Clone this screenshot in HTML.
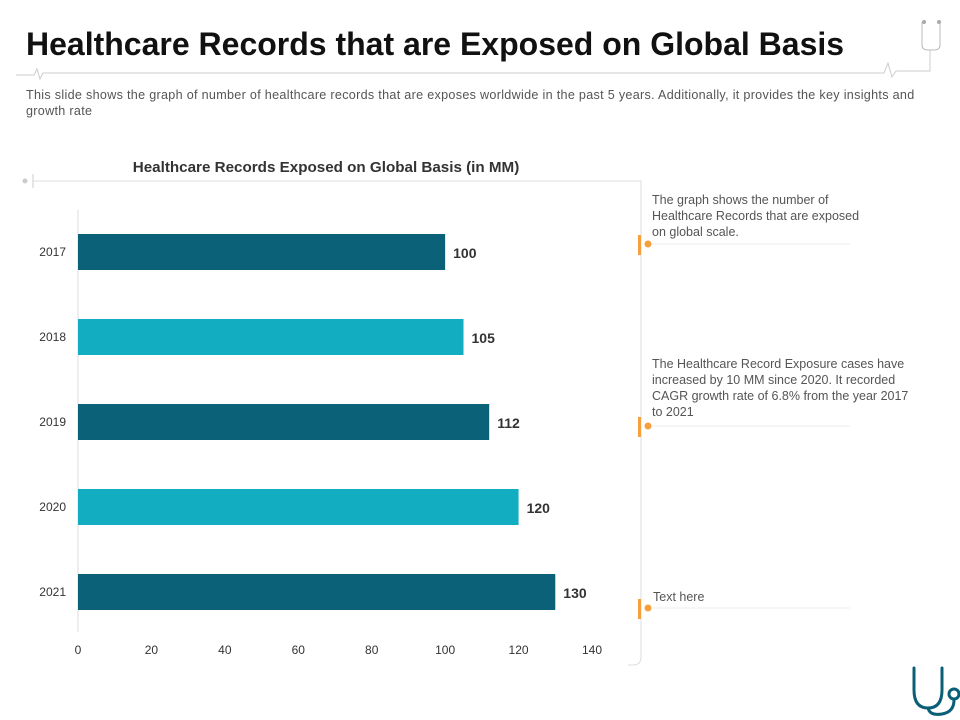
<!DOCTYPE html>
<html><head><meta charset="utf-8"><style>
body{margin:0;width:960px;height:720px;background:#fff;font-family:"Liberation Sans",sans-serif;overflow:hidden;position:relative}
.abs{position:absolute}
</style></head><body>
<div class="abs" style="left:26px;top:26px;font-size:32px;font-weight:bold;color:#111">Healthcare Records that are Exposed on Global Basis</div>
<div class="abs" style="left:26px;top:87px;width:900px;font-size:12.6px;letter-spacing:0.3px;line-height:16px;color:#555">This slide shows the graph of number of healthcare records that are exposes worldwide in the past 5 years. Additionally, it provides the key insights and growth rate</div>
<svg class="abs" style="left:0;top:0" width="960" height="720">
<g fill="none" stroke="#ccc" stroke-width="1">
<path d="M16 75 H34 l3 -6 l3 10 l3 -6 H884 l4 -10 l4 14 l4 -6 H930 V50"/>
<path d="M922 22 V45 Q922 50 928 50 H934 Q940 50 940 45 V22" stroke="#bbb"/>
<circle cx="924" cy="22" r="2" fill="#aaa" stroke="none"/><circle cx="939" cy="22" r="2" fill="#aaa" stroke="none"/>
</g>
<g fill="none" stroke="#ddd">
<circle cx="25" cy="181" r="2.5" fill="#ccc" stroke="none"/>
<line x1="33" y1="174" x2="33" y2="188" stroke="#ccc"/>
<path d="M33 181 H641 V657 Q641 665 633 665 H628"/>
</g>
<text x="326" y="172" text-anchor="middle" font-size="15.2" font-weight="bold" fill="#333">Healthcare Records Exposed on Global Basis (in MM)</text>
<g id="plot"></g>
<g>
<rect x="638" y="235" width="3" height="20" fill="#f5a03c"/><circle cx="648" cy="244" r="3.5" fill="#f5a03c"/><line x1="652" y1="244" x2="850" y2="244" stroke="#eee"/>
<text font-size="12.5" fill="#555"><tspan x="652" y="204">The graph shows the number of</tspan><tspan x="652" y="220">Healthcare Records that are exposed</tspan><tspan x="652" y="236">on global scale.</tspan></text>
<rect x="638" y="417" width="3" height="20" fill="#f5a03c"/><circle cx="648" cy="426" r="3.5" fill="#f5a03c"/><line x1="652" y1="426" x2="850" y2="426" stroke="#eee"/>
<text font-size="12.5" fill="#555"><tspan x="652" y="368">The Healthcare Record Exposure cases have</tspan><tspan x="652" y="384">increased by 10 MM since 2020. It recorded</tspan><tspan x="652" y="400">CAGR growth rate of 6.8% from the year 2017</tspan><tspan x="652" y="416">to 2021</tspan></text>
<rect x="638" y="599" width="3" height="20" fill="#f5a03c"/><circle cx="648" cy="608" r="3.5" fill="#f5a03c"/><line x1="652" y1="608" x2="850" y2="608" stroke="#eee"/>
<text x="653" y="601" font-size="12.5" fill="#555">Text here</text>
</g>
<g fill="none" stroke="#0a5f77" stroke-width="3" stroke-linecap="round">
<path d="M914 668 V690 Q914 708 928 708 Q942 708 942 690 V668"/>
<path d="M928 708 Q930 716 942 714 Q954 712 954 700"/>
<circle cx="954" cy="694" r="5"/>
</g>
</svg>
<script>
const categories=["2017","2018","2019","2020","2021"];
const values=[100,105,112,120,130];
const ticks=[0,20,40,60,80,100,120,140];
const colors=["#0a6178","#12adc0","#0a6178","#12adc0","#0a6178"];
const NS="http://www.w3.org/2000/svg";
const g=document.getElementById('plot');
const x=v=>78+v*(514/140);
const y=i=>234+i*85;
function mk(t,a){const e=document.createElementNS(NS,t);for(const k in a)e.setAttribute(k,a[k]);g.appendChild(e);return e;}
const ax=mk('line',{x1:78,y1:210,x2:78,y2:632,stroke:'#ddd'});


ticks.forEach(t=>{const e=mk('text',{x:x(t),y:654,'text-anchor':'middle','font-size':12,fill:'#333'});e.textContent=t;

});
categories.forEach((c,i)=>{
const r=mk('rect',{x:x(0),y:y(i),width:x(values[i])-x(0),height:36,fill:colors[i]});


const l=mk('text',{x:66,y:y(i)+22,'text-anchor':'end','font-size':12,fill:'#333'});l.textContent=c;


const v=mk('text',{x:x(values[i])+8,y:y(i)+24,'font-size':14,'font-weight':'bold',fill:'#333'});v.textContent=values[i];


});
</script>
</body></html>
